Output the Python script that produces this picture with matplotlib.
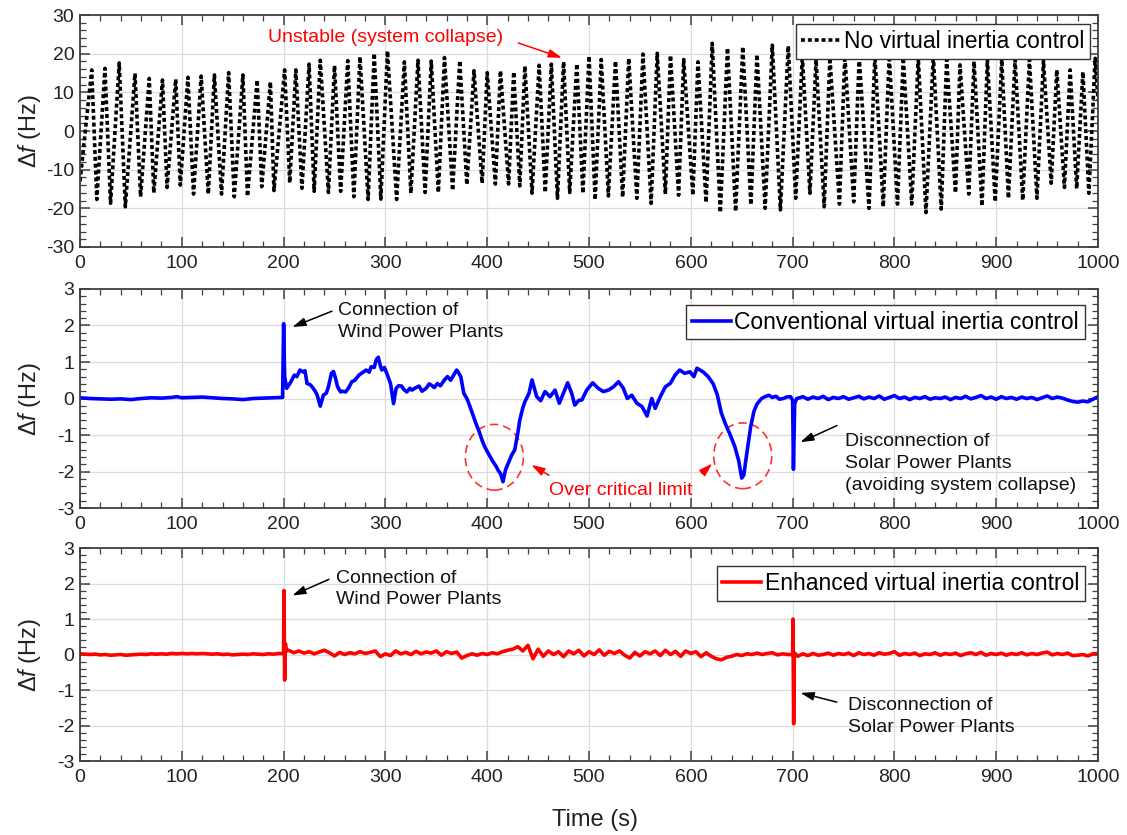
import numpy as np
import matplotlib
matplotlib.use("Agg")
import matplotlib.pyplot as plt
from matplotlib.patches import Ellipse
from matplotlib.ticker import MultipleLocator

plt.rcParams['font.family'] = ['Liberation Sans', 'DejaVu Sans']
plt.rcParams['mathtext.fontset'] = 'custom'
plt.rcParams['mathtext.rm'] = 'Liberation Sans'
plt.rcParams['mathtext.it'] = 'Liberation Sans:italic'
plt.rcParams['axes.unicode_minus'] = False

# ---- top panel: no virtual inertia control (peaks / troughs of the oscillation)
peak_t = [11.5, 24.5, 38.5, 54, 68, 81, 94, 106, 119, 132, 146, 160, 174, 187,
          201, 212, 225, 236, 250, 263, 275, 289, 302, 318.6, 332, 345, 358, 373,
          387, 400, 413, 426, 437, 451, 463, 475, 488, 500, 512, 526, 539, 553,
          567, 580, 593, 607, 621, 636, 651, 665, 680, 695.7, 709.5, 723, 736.6,
          751.3, 765.4, 780.8, 794.9, 808.7, 823.4, 838.2, 851.3, 864.4, 878.2,
          891.3, 905.4, 918.5, 932.6, 946.4, 959.5, 972.6, 985.1, 997.2]
peak_v = [15.8, 16.2, 17.6, 14.9, 13.6, 13.2, 13.4, 13.9, 14.2, 14.5, 15.1, 14.5,
          13.2, 12.7, 15.8, 15.8, 17.3, 18.3, 16.9, 18.2, 19.2, 20.1, 20.7, 17.9,
          18.3, 18.1, 19.0, 18.2, 15.6, 15.1, 15.6, 15.3, 16.8, 17.0, 17.3, 17.9,
          17.4, 19.4, 18.5, 18.1, 18.8, 19.9, 20.1, 19.6, 18.5, 17.9, 22.7, 21.5,
          21.8, 19.8, 22.2, 22.0, 19.5, 18.5, 19.0, 19.5, 19.0, 19.5, 19.5, 19.0,
          19.0, 19.5, 18.5, 17.1, 18.0, 18.5, 18.5, 18.5, 18.5, 18.2, 15.8, 15.8,
          15.3, 18.8]
trough_t = [0, 16.5, 30, 44.5, 59.5, 72.5, 85.5, 98.5, 111.5, 126, 139, 151.5,
            164.5, 178.5, 190.5, 206, 218, 230, 244, 256, 269, 283, 295.5, 311,
            325, 339, 352, 366, 380, 395, 408, 421, 432, 444, 457, 469, 481, 494,
            506, 519, 533, 547, 561, 575, 588, 602, 615, 629, 644, 659, 673, 688,
            703, 717, 731, 746, 760, 775, 789, 803, 817, 831, 846, 860, 873, 886,
            899, 912, 926, 940, 954, 967, 979, 991, 1000]
trough_v = [-13, -17.7, -18.7, -19.6, -17, -16, -14.6, -14, -16.3, -16.3, -16.3,
            -17, -16.9, -14.4, -15.4, -13.4, -14.8, -15.6, -15.9, -15.6, -17, -17.7,
            -17.6, -17.7, -16.1, -15.9, -15.9, -15.4, -13.9, -13.5, -13.7, -13.7,
            -14.2, -16.1, -15.9, -17.4, -15.9, -16.1, -17.8, -16.8, -17.1, -17.4,
            -18.7, -16.3, -16.6, -16.6, -18.5, -21.1, -20.8, -19.1, -20, -20.4,
            -17.4, -16.1, -19.6, -18.9, -18.3, -20, -19.6, -18.9, -18.9, -21.1,
            -20.2, -16, -16.3, -19.4, -18.3, -17.4, -17.9, -17.4, -13.5, -14.6,
            -14.9, -16.1, 8]

# ---- middle panel: conventional virtual inertia control
conv_t = [0, 10, 20, 30, 40, 50, 60, 70, 80, 90, 95, 100, 110, 120, 130, 140, 150,
          160, 170, 180, 190, 199, 200, 201, 203, 207, 210.5, 213, 216, 219, 221,
          223, 226, 228, 231, 233, 236, 239, 242, 244, 247, 249, 251, 253, 256, 258,
          261, 264, 267, 270, 274, 277, 281, 284, 286, 289, 291, 293, 295, 296.5,
          299, 302, 305, 308, 310.5, 313, 316, 318, 321, 324, 326, 330, 333, 336,
          340, 343, 345, 348, 351, 354, 358, 361, 364, 367, 370, 372, 374, 377, 380,
          382, 386, 389, 392, 395, 398, 401, 405, 409, 411, 413, 415.5, 418, 421,
          424, 427, 430, 432, 435, 437, 441, 444, 448.6, 452.5, 456.8, 461.7, 466.6,
          470.8, 474.8, 479, 483, 486, 490, 493, 497.7, 503.6, 509, 514, 519, 524,
          529, 533.7, 537.6, 542, 547, 552, 557, 561.6, 565, 570, 575, 580, 584.5,
          589, 594, 599, 603, 606, 612, 617, 622, 626, 630, 634, 638, 643, 647, 650,
          652, 655, 658.8, 662, 665, 669.5, 673, 676.6, 680, 683.7, 687, 690.8, 694,
          697.9, 700, 700.8, 702, 704, 707]
conv_v = [0.02, 0.0, -0.01, -0.02, -0.01, -0.03, 0.0, 0.02, 0.01, 0.03, 0.05, 0.02,
          0.03, 0.04, 0.02, 0.0, -0.01, -0.03, 0.0, 0.01, 0.02, 0.03, 2.05, 0.6, 0.28,
          0.45, 0.64, 0.6, 0.78, 0.73, 0.76, 0.41, 0.38, 0.32, 0.2, 0.09, -0.21, 0.09,
          0.15, 0.32, 0.69, 0.74, 0.55, 0.32, 0.18, 0.2, 0.18, 0.3, 0.46, 0.5, 0.64,
          0.7, 0.78, 0.72, 0.87, 0.85, 1.06, 1.13, 0.9, 0.78, 0.85, 0.64, 0.41, -0.14,
          0.28, 0.35, 0.34, 0.25, 0.18, 0.28, 0.23, 0.3, 0.34, 0.2, 0.28, 0.4, 0.37,
          0.3, 0.41, 0.35, 0.51, 0.6, 0.5, 0.64, 0.78, 0.7, 0.6, 0.14, 0.0, -0.14,
          -0.45, -0.69, -0.9, -1.15, -1.35, -1.5, -1.7, -1.87, -1.98, -2.05, -2.28,
          -1.95, -1.75, -1.55, -1.41, -0.95, -0.59, -0.25, -0.09, 0.14, 0.51, 0.05,
          -0.06, 0.19, 0.05, 0.23, -0.13, 0.14, 0.43, 0.14, -0.18, -0.05, -0.04, 0.23,
          0.43, 0.28, 0.19, 0.23, 0.32, 0.46, 0.28, 0.0, 0.09, -0.13, -0.22, -0.48,
          0.0, -0.27, 0.05, 0.32, 0.42, 0.64, 0.78, 0.69, 0.73, 0.6, 0.83, 0.73, 0.6,
          0.4, 0.1, -0.4, -0.7, -0.95, -1.3, -1.7, -2.18, -2.1, -1.5, -0.77, -0.35,
          -0.15, 0.0, 0.05, 0.09, 0.03, 0.06, -0.02, 0.0, 0.04, 0.05, -0.05, -1.94,
          -0.14, 0.0, 0.02]
# after 710 s, every 5 s
conv_tail_v = [0.05, -0.02, 0.04, 0.0, 0.06, -0.03, 0.03, 0.0, 0.05, -0.02, 0.02,
               0.06, -0.01, 0.04, 0.0, 0.07, -0.02, 0.03, 0.08, 0.0, 0.04, -0.03,
               0.03, 0.0, 0.05, -0.02, 0.02, 0.0, 0.04, -0.03, 0.03, 0.0, 0.06, -0.01,
               0.03, 0.08, 0.0, 0.04, -0.02, 0.05, 0.0, 0.03, -0.02, 0.04, 0.0, 0.03,
               -0.03, 0.02, 0.07, 0.0, 0.04, 0.01, -0.04, -0.08, -0.1, -0.07, -0.09,
               -0.02, 0.05]

# ---- bottom panel: enhanced virtual inertia control, every 5 s
enh_v = [0.02, 0.01, 0.0, 0.01, -0.01, 0.0, -0.02, -0.01, 0.0, -0.02, -0.01, 0.0, 0.01, 0.0, 0.02, 0.01, 0.02, 0.01, 0.03, 0.02,
         0.03, 0.02, 0.03, 0.02, 0.03, 0.02, 0.01, 0.02, 0.0, 0.01, -0.01, 0.0, 0.01, 0.0, 0.02, 0.01, 0.0, 0.02, 0.01, 0.03,
         0.03, 0.12, 0.05, 0.1, 0.04, 0.08, 0.02, 0.07, 0.12, 0.05, -0.04, 0.06, 0.0, 0.05, 0.02, 0.08, 0.03, 0.06, 0.1, -0.06,
         0.02, -0.03, 0.1, 0.02, 0.06, 0.0, 0.09, 0.02, 0.07, 0.04, 0.1, -0.02, 0.08, 0.03, 0.07, -0.1, -0.03, 0.02, -0.02, 0.03,
         0.0, 0.05, 0.02, 0.08, 0.12, 0.15, 0.22, 0.1, 0.26, -0.12, 0.15, -0.05, 0.1, 0.0, 0.08, -0.06, 0.1, 0.02, 0.12, -0.04,
         0.08, 0.0, 0.13, -0.02, 0.09, 0.03, 0.1, -0.02, -0.1, 0.06, -0.04, 0.08, 0.02, 0.1, -0.03, 0.12, 0.0, 0.09, -0.05, 0.1,
         0.03, 0.08, -0.06, 0.05, -0.05, -0.12, -0.15, -0.08, -0.05, 0.0, -0.03, 0.02, 0.0, 0.04, 0.0, 0.03, 0.05, -0.01, 0.02, 0.0,
         0.0, -0.05, 0.02, -0.03, 0.03, -0.02, 0.0, 0.04, -0.02, 0.03, 0.0, 0.04, -0.03, 0.05, 0.0, 0.03, -0.02, 0.05, 0.01, 0.03,
         0.08, -0.02, 0.03, 0.0, 0.04, -0.03, 0.02, 0.0, 0.05, -0.02, 0.03, 0.0, 0.04, -0.03, 0.02, 0.05, 0.0, 0.06, -0.02, 0.03,
         0.0, 0.04, -0.02, 0.03, 0.0, 0.05, -0.01, 0.03, 0.0, 0.04, 0.07, -0.01, 0.03, 0.0, 0.04, -0.03, -0.02, 0.0, -0.04, 0.02,
         0.03]
enh_spike_t = [200.3, 201.0, 201.8, 202.6, 700.3, 701.0, 701.7]
enh_spike_v = [1.8, -0.72, 0.3, 0.1, 1.0, -1.95, 0.05]

# ---- assemble series
t1 = np.array(peak_t + trough_t)
v1 = np.array(peak_v + trough_v)
o = np.argsort(t1)
t1, v1 = t1[o], v1[o]

t2 = np.concatenate([conv_t, np.arange(710, 1001, 5)])
v2 = np.concatenate([conv_v, conv_tail_v])

t3 = np.concatenate([np.arange(0, 1001, 5), enh_spike_t])
v3 = np.concatenate([enh_v, enh_spike_v])
o = np.argsort(t3, kind='stable')
t3, v3 = t3[o], v3[o]

fig = plt.figure(figsize=(11.27, 8.35), dpi=100)
rects = [[0.071, 0.7042, 0.9033, 0.2778],
         [0.071, 0.3916, 0.9033, 0.2623],
         [0.071, 0.0886, 0.9033, 0.2551]]
axes = [fig.add_axes(r) for r in rects]
ax1, ax2, ax3 = axes

ax1.plot(t1, v1, color='black', lw=2.6, ls=(0, (1.1, 0.8)),
         label='No virtual inertia control')
ax2.plot(t2, v2, color='#0000ff', lw=2.6, label='Conventional virtual inertia control')
ax3.plot(t3, v3, color='#ff0000', lw=2.6, label='Enhanced virtual inertia control')

ylims = [(-30, 30), (-3, 3), (-3, 3)]
ymaj = [10, 1, 1]
ymin = [2, 0.2, 0.2]
legend_anchor = [(0.992, 0.96), (0.987, 0.927), (0.987, 0.915)]
for ax, yl, ym, yn, anc in zip(axes, ylims, ymaj, ymin, legend_anchor):
    ax.set_xlim(0, 1000)
    ax.set_ylim(*yl)
    ax.xaxis.set_major_locator(MultipleLocator(100))
    ax.xaxis.set_minor_locator(MultipleLocator(20))
    ax.yaxis.set_major_locator(MultipleLocator(ym))
    ax.yaxis.set_minor_locator(MultipleLocator(yn))
    ax.tick_params(which='both', direction='in', top=True, right=True,
                   colors='#404040', labelcolor='#222222', labelsize=14)
    ax.tick_params(which='major', length=7, width=1.1)
    ax.tick_params(which='minor', length=4, width=0.9)
    ax.tick_params(axis='x', pad=6)
    ax.tick_params(axis='y', pad=4)
    ax.grid(True, which='major', color='#dcdcdc', lw=0.9)
    ax.set_axisbelow(True)
    for s in ax.spines.values():
        s.set_color('#404040')
        s.set_linewidth(1.3)
    ax.set_ylabel(r'$\Delta\mathit{f}$ (Hz)', fontsize=17, color='#222222')
    ax.yaxis.set_label_coords(-0.036, 0.5)
    leg = ax.legend(loc='upper right', bbox_to_anchor=anc, borderaxespad=0,
                    fontsize=16.5, handlelength=1.7, handletextpad=0.15,
                    borderpad=0.25, fancybox=False, framealpha=1)
    leg.get_frame().set_edgecolor('#333333')
    leg.get_frame().set_linewidth(1.0)

arrow_k = dict(arrowstyle='-|>,head_length=0.8,head_width=0.25', color='black', lw=1.1)
arrow_r = dict(arrowstyle='-|>,head_length=0.8,head_width=0.25', color='red', lw=1.1)

# top annotations
ax1.text(300, 24.3, 'Unstable (system collapse)', color='red', fontsize=14,
         ha='center', va='center')
ax1.annotate('', xy=(476, 18.7), xytext=(428, 23.0), arrowprops=arrow_r)

# middle annotations
ax2.text(253, 2.11, 'Connection of\nWind Power Plants', fontsize=14, ha='left',
         va='center', linespacing=1.35, color='#111111')
ax2.annotate('', xy=(206, 1.93), xytext=(250, 2.42), arrowprops=arrow_k)
ax2.text(751, -1.78, 'Disconnection of\nSolar Power Plants\n(avoiding system collapse)',
         fontsize=14, ha='left', va='center', linespacing=1.35, color='#111111')
ax2.annotate('', xy=(705, -1.23), xytext=(746, -0.71), arrowprops=arrow_k)
for cx, cy in [(407, -1.61), (651, -1.57)]:
    ax2.add_patch(Ellipse((cx, cy), 57, 1.8, fill=False, ls=(0, (5, 3)),
                          color='#ff3030', lw=1.2))
ax2.text(531, -2.53, 'Over critical limit', color='red', fontsize=14,
         ha='center', va='center')
ax2.annotate('', xy=(441, -1.78), xytext=(463, -2.14), arrowprops=arrow_r)
ax2.annotate('', xy=(623, -1.73), xytext=(609, -2.1), arrowprops=arrow_r)

# bottom annotations
ax3.text(251.5, 1.85, 'Connection of\nWind Power Plants', fontsize=14, ha='left',
         va='center', linespacing=1.35, color='#111111')
ax3.annotate('', xy=(206, 1.63), xytext=(247, 2.15), arrowprops=arrow_k)
ax3.text(754, -1.75, 'Disconnection of\nSolar Power Plants', fontsize=14, ha='left',
         va='center', linespacing=1.35, color='#111111')
ax3.annotate('', xy=(705, -1.06), xytext=(746, -1.36), arrowprops=arrow_k)

fig.text(0.528, 0.018, 'Time (s)', fontsize=17, ha='center', va='center', color='#222222')

fig.savefig('out.png', dpi=100)
